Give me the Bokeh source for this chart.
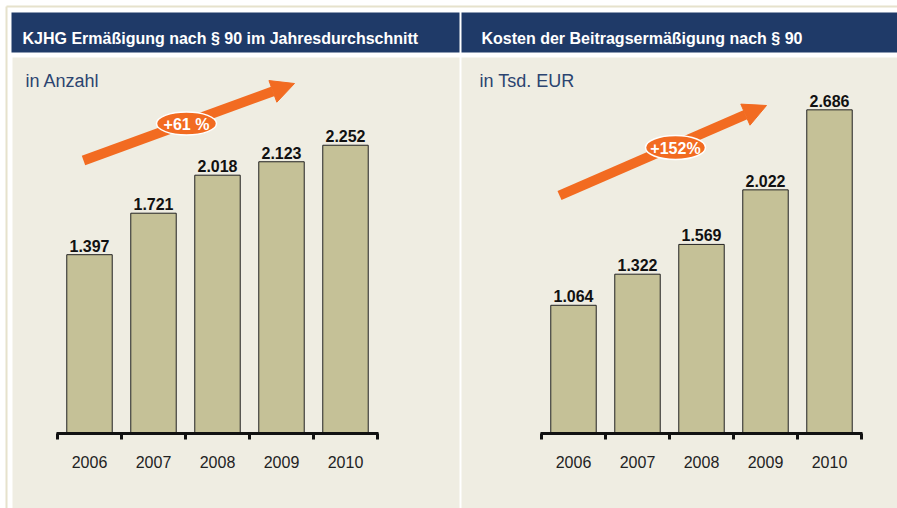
from bokeh.plotting import figure
from bokeh.models import (Range1d, LinearAxis, FixedTicker, Arrow, NormalHead, Label,
                          ColumnDataSource)
from bokeh.embed import file_html
from bokeh.resources import INLINE

# ---------------- data ----------------
years = ["2006", "2007", "2008", "2009", "2010"]
anzahl = [1397, 1721, 2018, 2123, 2252]          # KJHG Ermäßigung (Anzahl)
kosten = [1064, 1322, 1569, 2022, 2686]          # Kosten (Tsd. EUR)
title_left = "KJHG Ermäßigung nach § 90 im Jahresdurchschnitt"
title_right = "Kosten der Beitragsermäßigung nach § 90"
sub_left = "in Anzahl"
sub_right = "in Tsd. EUR"
growth_left = "+61 %"
growth_right = "+152%"

def de(v):
    return f"{v:,}".replace(",", ".")

# ---------------- styles ----------------
NAVY = "#1F3A68"
PANEL = "#EFEDE2"
BAR = "#C5C197"
ORANGE = "#F26B21"
SUBC = "#2B4470"
LINE = "#E6E2CC"
FONT = "Liberation Sans"

W, H = 897, 508
# page-pixel coordinate system for decorations
p = figure(width=W, height=H, output_backend="svg", toolbar_location=None,
           x_range=Range1d(0, W), y_range=Range1d(H, 0),
           x_axis_type=None, y_axis_type=None, min_border=0)
p.outline_line_color = None
p.background_fill_color = "white"
p.border_fill_color = "white"
p.xgrid.visible = False
p.ygrid.visible = False

# chart ranges: category index -> page x, value -> page y
def xr(center0, step):
    return Range1d((0 - center0) / step, (W - center0) / step)

def yr(base, scale):
    return Range1d((base - H) / scale, (base - 0) / scale)

SCALE = {"L": 0.128, "R": 0.1205}
p.extra_x_ranges = {"L": xr(89, 64), "R": xr(573, 64)}
p.extra_y_ranges = {"L": yr(433, SCALE["L"]), "R": yr(433, SCALE["R"])}

# thin frame lines
p.segment(x0=[6, 6], y0=[6, 6], x1=[897, 6], y1=[6, 508], line_color=LINE, line_width=2)

# panels and title bars
p.quad(left=[11, 461], right=[459, 897], top=[12, 12], bottom=[52, 52],
       fill_color=NAVY, line_color=None)
p.quad(left=[12, 461], right=[459, 897], top=[57, 57], bottom=[508, 508],
       fill_color=PANEL, line_color=None)

for txt, x in ((title_left, 22), (title_right, 481)):
    p.add_layout(Label(x=x, y=38, text=txt, text_color="white", text_font=FONT,
                       text_font_style="bold", text_font_size="16px",
                       text_baseline="alphabetic"))
for txt, x in ((sub_left, 25), (sub_right, 479)):
    p.add_layout(Label(x=x, y=80, text=txt, text_color=SUBC, text_font=FONT,
                       text_font_size="18px", text_baseline="alphabetic"))

LABEL_GAP_PX = 9
idx = list(range(len(years)))
for name, vals in (("L", anzahl), ("R", kosten)):
    src = ColumnDataSource(dict(x=idx, top=vals, lab=[de(v) for v in vals],
                                ly=[v + LABEL_GAP_PX / SCALE[name] for v in vals]))
    p.vbar(x="x", top="top", bottom=0, width=0.71, source=src,
           x_range_name=name, y_range_name=name,
           fill_color=BAR, line_color="#222222", line_width=1)
    p.text(x="x", y="ly", text="lab", source=src, x_range_name=name, y_range_name=name,
           text_align="center", text_baseline="alphabetic",
           text_font={"value": FONT}, text_font_style="bold",
           text_font_size="16px", text_color="#111111")
    ax = LinearAxis(x_range_name=name, y_range_name=name, fixed_location=0,
                    bounds=(-0.51, len(years) - 0.49),
                    ticker=FixedTicker(ticks=idx,
                                       minor_ticks=[i - 0.5 for i in range(len(years) + 1)]),
                    major_label_overrides={i: y for i, y in enumerate(years)})
    ax.axis_line_width = 3
    ax.axis_line_color = "#111111"
    ax.major_tick_in = 0
    ax.major_tick_out = 0
    ax.minor_tick_in = 0
    ax.minor_tick_out = 6
    ax.minor_tick_line_width = 3
    ax.minor_tick_line_color = "#111111"
    ax.major_label_standoff = 16
    ax.major_label_text_font = FONT
    ax.major_label_text_font_size = "16px"
    ax.major_label_text_color = "#222222"
    p.add_layout(ax, "below")

# growth arrows
for (xs, ys, xe, ye) in ((83, 160, 294, 83), (559, 195, 766, 105)):
    p.add_layout(Arrow(x_start=xs, y_start=ys, x_end=xe, y_end=ye,
                       line_color=ORANGE, line_width=10,
                       end=NormalHead(size=23, fill_color=ORANGE, line_color=ORANGE,
                                      line_width=1)))

p.ellipse(x=[186, 675], y=[123, 147], width=[60, 60], height=[23, 24],
          fill_color=ORANGE, line_color="white", line_width=1.5, level="overlay")
p.text(x=[186, 675], y=[124, 148], text=[growth_left, growth_right],
       text_align="center", text_baseline="middle", text_color="white",
       text_font={"value": FONT}, text_font_style="bold", text_font_size="16px",
       level="overlay")

open("out.html", "w").write(file_html(p, INLINE))
